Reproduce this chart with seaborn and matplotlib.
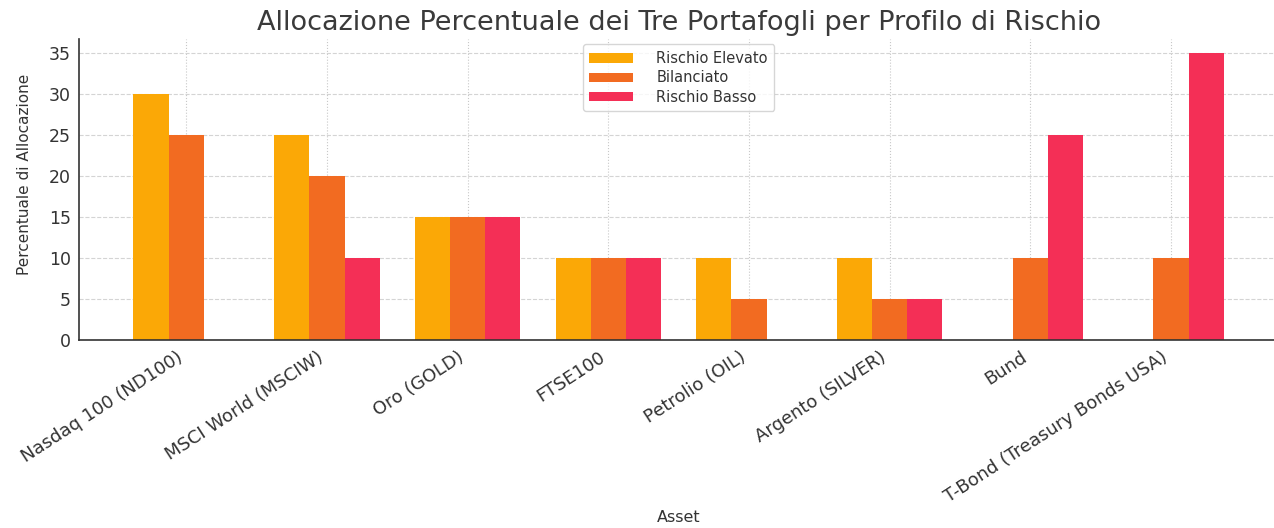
import numpy as np
import pandas as pd
import matplotlib
matplotlib.use("Agg")
import matplotlib.pyplot as plt
import seaborn as sns

assets = ["Nasdaq 100 (ND100)", "MSCI World (MSCIW)", "Oro (GOLD)", "FTSE100",
          "Petrolio (OIL)", "Argento (SILVER)", "Bund", "T-Bond (Treasury Bonds USA)"]
rischio_elevato = [30, 25, 15, 10, 10, 10, 0, 0]
bilanciato = [25, 20, 15, 10, 5, 5, 10, 10]
rischio_basso = [0, 10, 15, 10, 0, 5, 25, 35]
series_names = ["Rischio Elevato", "Bilanciato", "Rischio Basso"]
colors = ["#FBA806", "#F26B21", "#F42F56"]
yticks = [0, 5, 10, 15, 20, 25, 30, 35]

df = pd.DataFrame({
    "Asset": assets * 3,
    "Valore": rischio_elevato + bilanciato + rischio_basso,
    "Profilo": [series_names[0]] * len(assets) + [series_names[1]] * len(assets) + [series_names[2]] * len(assets),
})

sns.set_style("white")
plt.rcParams["font.family"] = ["DejaVu Sans"]

fig = plt.figure(figsize=(12.74, 5.28), dpi=100)
ax = fig.add_axes([0.062, 0.356, 0.9413, 0.571])

sns.barplot(data=df, x="Asset", y="Valore", hue="Profilo", palette=colors,
            width=0.75, gap=0, errorbar=None, saturation=1, linewidth=0,
            edgecolor="none", ax=ax, zorder=2)

ax.set_xlim(-0.7625, 7.7625)
ax.set_ylim(0, 36.75)
ax.set_yticks(yticks)

ax.set_axisbelow(True)
ax.yaxis.grid(True, linestyle="--", color="#d4d4d4", linewidth=0.8)
ax.xaxis.grid(True, linestyle=":", color="#c8c8c8", linewidth=0.8)

for s in ["top", "right"]:
    ax.spines[s].set_visible(False)
for s in ["left", "bottom"]:
    ax.spines[s].set_color("#333333")
    ax.spines[s].set_linewidth(1.2)

ax.tick_params(axis="x", direction="in", length=4, color="#333333", labelsize=13,
               labelcolor="#333333", pad=6)
ax.tick_params(axis="y", length=0, labelsize=12.5, labelcolor="#333333", pad=6)
plt.setp(ax.get_xticklabels(), rotation=33, ha="right", rotation_mode="default")

ax.set_title("Allocazione Percentuale dei Tre Portafogli per Profilo di Rischio",
             fontsize=19.5, color="#3a3a3a", pad=6)
ax.set_xlabel("Asset", fontsize=11.5, color="#333333")
ax.xaxis.set_label_coords(0.5, -0.563)
ax.set_ylabel("Percentuale di Allocazione", fontsize=11, color="#333333")
ax.yaxis.set_label_coords(-0.039, 0.55)

leg = ax.legend(loc="upper center", bbox_to_anchor=(0.5, 0.99), fontsize=10.5,
                frameon=True, handlelength=3.0, handleheight=0.6, title=None,
                borderpad=0.45, labelspacing=0.3, handletextpad=1.6,
                borderaxespad=0.2)
leg.get_frame().set_edgecolor("#cccccc")
for t in leg.get_texts():
    t.set_color("#333333")

fig.savefig("out.png", dpi=100)
